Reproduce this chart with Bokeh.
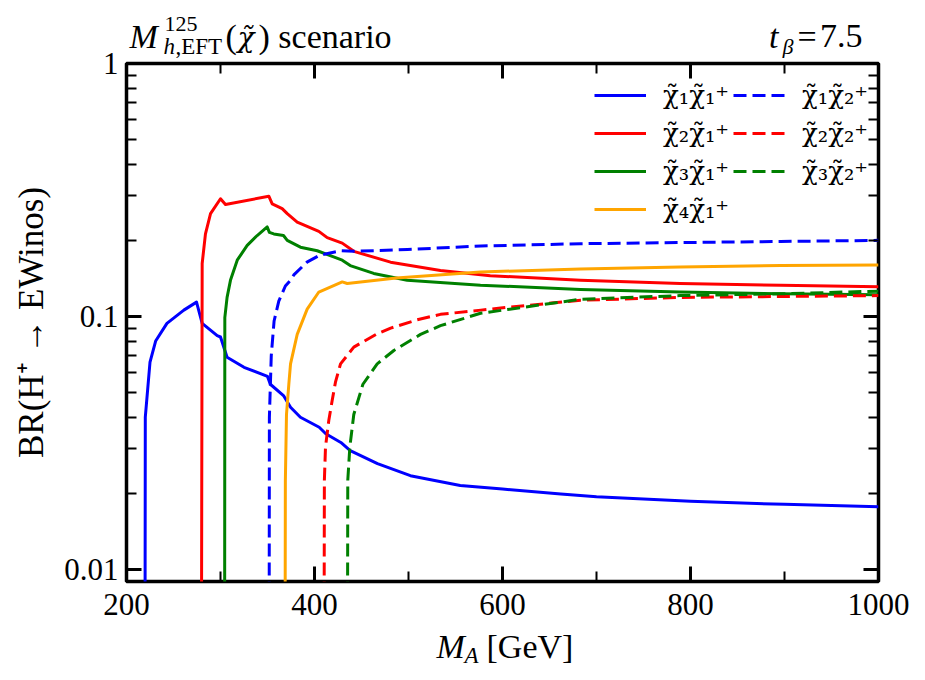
from bokeh.plotting import figure
from bokeh.layouts import column
from bokeh.models import (Label, Legend, LegendItem, FixedTicker, LogAxis, LinearAxis,
                          CustomJSTickFormatter, Range1d)
from bokeh.embed import file_html
from bokeh.resources import INLINE

# ---------------- data ----------------
x_c1c1 = [219.5, 220, 225, 231, 243, 261, 274.5, 280.5, 296.5, 300, 307, 325, 350, 353, 367,
          374.5, 385, 405, 412, 428, 438, 467, 502, 555, 600, 662, 700, 800, 900, 1000]
y_c1c1 = [0.001, 0.040, 0.066, 0.080, 0.094, 0.106, 0.114, 0.094, 0.084, 0.083, 0.069, 0.063,
          0.058, 0.054, 0.0487, 0.0438, 0.040, 0.0365, 0.0344, 0.0318, 0.0295, 0.0262, 0.0235,
          0.0215, 0.0208, 0.0199, 0.0194, 0.0186, 0.0181, 0.0177]

x_c2c1 = [279.4, 280.5, 284, 289.4, 300, 305.3, 351.4, 355, 365.6, 371, 381.6, 404.6, 413.5,
          429.5, 441.8, 480.9, 534, 587, 683, 789, 896, 1000]
y_c2c1 = [0.001, 0.162, 0.212, 0.255, 0.292, 0.277, 0.299, 0.279, 0.267, 0.255, 0.236, 0.217,
          0.205, 0.195, 0.181, 0.164, 0.152, 0.145, 0.139, 0.135, 0.133, 0.131]

x_c3c1 = [304.3, 304.6, 307, 310.6, 317.8, 328.4, 339, 349.7, 352, 356.7, 367, 371, 385, 402.9,
          429.5, 438, 463, 498.6, 576.6, 683, 789, 896, 1000]
y_c3c1 = [0.001, 0.099, 0.119, 0.139, 0.167, 0.191, 0.209, 0.226, 0.215, 0.212, 0.209, 0.200,
          0.188, 0.182, 0.167, 0.159, 0.148, 0.139, 0.133, 0.128, 0.125, 0.123, 0.122]

x_c4c1 = [368.4, 369, 370.2, 372.7, 374.5, 381.6, 392.2, 404.6, 429.5, 434.8, 487, 576.6, 683,
          789, 896, 1000]
y_c4c1 = [0.001, 0.0225, 0.041, 0.054, 0.065, 0.085, 0.107, 0.125, 0.137, 0.135, 0.142, 0.150,
          0.154, 0.157, 0.159, 0.160]

x_c1c2 = [351.6, 352, 354, 357, 362, 369, 374.5, 378, 389, 392, 406, 428, 442, 499, 577, 683,
          789, 896, 1000]
y_c1c2 = [0.001, 0.040, 0.070, 0.096, 0.115, 0.132, 0.139, 0.146, 0.160, 0.164, 0.175, 0.182,
          0.181, 0.184, 0.190, 0.194, 0.196, 0.198, 0.200]

x_c2c2 = [409.9, 410.5, 411.7, 415.2, 418.8, 422.3, 427.7, 441.8, 466.7, 481, 509, 534, 577,
          598, 683, 789, 896, 1000]
y_c2c2 = [0.001, 0.0225, 0.0305, 0.0388, 0.0466, 0.055, 0.065, 0.0757, 0.0855, 0.090, 0.097,
          0.102, 0.106, 0.108, 0.116, 0.119, 0.120, 0.121]

x_c3c2 = [434.8, 435.4, 437.6, 441.8, 451.5, 466.7, 484.4, 512.8, 534, 576.6, 683, 789, 896, 1000]
y_c3c2 = [0.001, 0.0225, 0.0305, 0.041, 0.054, 0.065, 0.0734, 0.085, 0.092, 0.103, 0.117, 0.121,
          0.123, 0.126]

x_ticks = [200, 400, 600, 800, 1000]
x_minor = [300, 500, 700, 900]
y_ticks = [0.01, 0.1, 1]
y_minor = [0.02, 0.03, 0.04, 0.05, 0.06, 0.07, 0.08, 0.09,
           0.2, 0.3, 0.4, 0.5, 0.6, 0.7, 0.8, 0.9]

labels_col1 = ["χ̃₁χ̃₁⁺", "χ̃₂χ̃₁⁺", "χ̃₃χ̃₁⁺", "χ̃₄χ̃₁⁺"]
labels_col2 = ["χ̃₁χ̃₂⁺", "χ̃₂χ̃₂⁺", "χ̃₃χ̃₂⁺"]

# ---------------- layout constants ----------------
FONT = "Liberation Serif"
MATH = "DejaVu Serif"
W = 915
FRAME_L, FRAME_R = 126, 878
H_TITLE = 58            # title strip: page y 0..58
MAIN_OVERLAP = 20       # main plot starts 20px higher (transparent border)
H_MAIN = 593            # page y 38..631, frame 63..581
XLAB_OVERLAP = 15       # x-label strip starts at 616
H_XLAB = 60             # page y 616..676


def blank_fig(h, margin):
    f = figure(width=W, height=h, output_backend="svg", toolbar_location=None,
               title_location=None, margin=margin,
               x_range=Range1d(FRAME_L, FRAME_R), y_range=Range1d(h, 0),
               x_axis_location=None, y_axis_location=None,
               min_border_left=FRAME_L, min_border_right=W - FRAME_R,
               min_border_top=0, min_border_bottom=0)
    f.grid.visible = False
    f.outline_line_color = None
    f.background_fill_alpha = 0
    f.border_fill_alpha = 0
    return f


def txt(f, x, y, s, size, style="normal", align="left", font=FONT):
    # y is the wanted baseline; compensate the renderer's baseline offset (~0.27 em)
    fs = float(size.replace("px", ""))
    f.add_layout(Label(x=x, y=y - 0.27 * fs, text=s, text_font=font, text_font_size=size,
                       text_font_style=style, text_align=align,
                       text_baseline="alphabetic", text_color="black"))


# ---------------- title strip ----------------
pt = blank_fig(H_TITLE, 0)
txt(pt, 129, 45, "M", "34px", "italic")
txt(pt, 164, 29, "125", "22px")
txt(pt, 163, 52, "h", "23px", "italic")
txt(pt, 175, 52, ",EFT", "23px")
txt(pt, 225, 45, "(", "34px")
txt(pt, 237, 45, "χ̃", "28px", "italic", font=MATH)
txt(pt, 258, 45, ") scenario", "34px")
txt(pt, 778, 45, "t", "34px", "italic", "right")
txt(pt, 793, 52, "β", "22px", "italic", "right")
txt(pt, 797, 45, "=", "34px")
txt(pt, 862, 45, "7.5", "34px", "normal", "right")

# ---------------- main plot ----------------
p = figure(width=W, height=H_MAIN, output_backend="svg", toolbar_location=None,
           title_location=None, margin=(-MAIN_OVERLAP, 0, 0, 0),
           y_axis_type="log", x_range=Range1d(200, 1000), y_range=Range1d(0.00897, 1.0),
           min_border_left=FRAME_L, min_border_right=W - FRAME_R,
           min_border_top=5 + MAIN_OVERLAP, min_border_bottom=50)
p.grid.visible = False
p.outline_line_color = "black"
p.outline_line_width = 3.5
p.background_fill_color = "white"
p.border_fill_alpha = 0


def style_axis(ax, ticks, minor, show_labels):
    ax.ticker = FixedTicker(ticks=ticks, minor_ticks=minor)
    ax.axis_line_color = None
    ax.major_tick_in = 15
    ax.major_tick_out = 0
    ax.minor_tick_in = 10
    ax.minor_tick_out = 0
    ax.major_tick_line_width = 3
    ax.minor_tick_line_width = 2
    ax.major_tick_line_color = "black"
    ax.minor_tick_line_color = "black"
    ax.major_label_text_font = FONT
    ax.major_label_text_color = "black"
    if show_labels:
        ax.major_label_text_font_size = "31px"
        ax.formatter = CustomJSTickFormatter(code="return tick.toString();")
    else:
        ax.major_label_text_font_size = "1px"
        ax.formatter = CustomJSTickFormatter(code="return '';")
        ax.major_label_standoff = 0


style_axis(p.xaxis[0], x_ticks, x_minor, True)
p.xaxis[0].major_label_standoff = 12
style_axis(p.yaxis[0], y_ticks, y_minor, True)
p.yaxis[0].major_label_standoff = 8
p.yaxis[0].axis_label = "BR(H⁺ → EWinos)"
p.yaxis[0].axis_label_text_font = FONT
p.yaxis[0].axis_label_text_font_size = "35px"
p.yaxis[0].axis_label_text_font_style = "normal"
p.yaxis[0].axis_label_text_color = "black"
p.yaxis[0].axis_label_standoff = 10

top_ax = LinearAxis()
style_axis(top_ax, x_ticks, x_minor, False)
p.add_layout(top_ax, "above")
right_ax = LogAxis()
style_axis(right_ax, y_ticks, y_minor, False)
p.add_layout(right_ax, "right")

series = [
    (x_c1c1, y_c1c1, "#0000ff", "solid"),
    (x_c2c1, y_c2c1, "#ff0000", "solid"),
    (x_c3c1, y_c3c1, "#008000", "solid"),
    (x_c4c1, y_c4c1, "#ffa500", "solid"),
    (x_c1c2, y_c1c2, "#0000ff", "13 6"),
    (x_c2c2, y_c2c2, "#ff0000", "13 6"),
    (x_c3c2, y_c3c2, "#008000", "13 6"),
]
rends = []
for xs, ys, col, dash in series:
    r = p.line(xs, ys, line_color=col, line_width=3, line_dash=dash, line_join="round")
    rends.append(r)


def make_legend(labs, rs, loc):
    return Legend(items=[LegendItem(label=lab, renderers=[r]) for lab, r in zip(labs, rs)],
                  location=loc, orientation="vertical",
                  border_line_color=None, background_fill_alpha=0,
                  glyph_width=52, glyph_height=30, label_height=30, label_standoff=17,
                  spacing=8, padding=10, margin=0,
                  label_text_font=MATH, label_text_font_size="26px",
                  label_text_color="black", label_text_baseline="middle")


p.add_layout(make_legend(labels_col1, rends[:4], (468, 357)))
p.add_layout(make_legend(labels_col2, rends[4:], (607, 395)))

# ---------------- x-axis label strip ----------------
px = blank_fig(H_XLAB, (-XLAB_OVERLAP, 0, 0, 0))
base = 655 - (631 - XLAB_OVERLAP)
txt(px, 436, base, "M", "34px", "italic")
txt(px, 464, base + 6, "A", "23px", "italic")
txt(px, 486, base, "[GeV]", "34px")

layout = column(pt, p, px, spacing=0, margin=0)
open("out.html", "w").write(file_html(layout, INLINE))
